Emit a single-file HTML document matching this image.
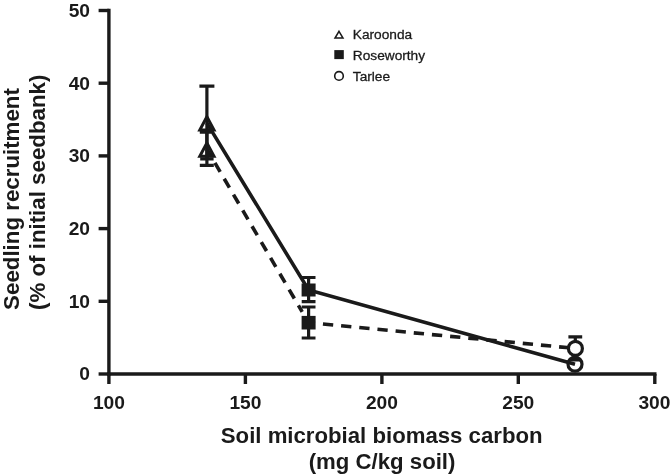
<!DOCTYPE html>
<html>
<head>
<meta charset="utf-8">
<title>Seedling recruitment vs soil microbial biomass carbon</title>
<style>
  html, body { margin: 0; padding: 0; background: #ffffff; }
  body { width: 671px; height: 475px; overflow: hidden; }
  svg { display: block; will-change: transform; }
  text { font-family: "Liberation Sans", sans-serif; fill: #1a1a1a; }
  .b { font-weight: bold; }
  .lg text { stroke: #1a1a1a; stroke-width: 0.3px; }
  .tick { font-size: 19.2px; font-weight: bold; }
  .ax { stroke: #1a1a1a; stroke-width: 3.4; fill: none; stroke-linecap: butt; }
  .eb { stroke: #1a1a1a; stroke-width: 3.2; fill: none; }
  .ln { stroke: #1a1a1a; stroke-width: 3.6; fill: none; }
</style>
</head>
<body>
<svg width="671" height="475" viewBox="0 0 671 475">
  <rect x="0" y="0" width="671" height="475" fill="#ffffff"/>

  <!-- axes -->
  <g class="ax">
    <path d="M108.9 8.8 V375.7"/>
    <path d="M107.2 374 H656.5"/>
    <!-- y ticks -->
    <path d="M98.6 10.5 H108.9"/>
    <path d="M98.6 83.2 H108.9"/>
    <path d="M98.6 155.9 H108.9"/>
    <path d="M98.6 228.6 H108.9"/>
    <path d="M98.6 301.3 H108.9"/>
    <path d="M98.6 374 H108.9"/>
    <!-- x ticks -->
    <path d="M108.9 374 V384"/>
    <path d="M245.4 374 V384"/>
    <path d="M381.9 374 V384"/>
    <path d="M518.3 374 V384"/>
    <path d="M654.8 374 V384"/>
  </g>

  <!-- y tick labels -->
  <g class="tick" text-anchor="end">
    <text x="90" y="16.9">50</text>
    <text x="90" y="89.6">40</text>
    <text x="90" y="162.3">30</text>
    <text x="90" y="235.0">20</text>
    <text x="90" y="307.7">10</text>
    <text x="90" y="380.4">0</text>
  </g>
  <!-- x tick labels -->
  <g class="tick" text-anchor="middle">
    <text x="108.9" y="409.2">100</text>
    <text x="245.4" y="409.2">150</text>
    <text x="381.9" y="409.2">200</text>
    <text x="518.3" y="409.2">250</text>
    <text x="654.4" y="409.2">300</text>
  </g>

  <!-- axis titles -->
  <text class="b" font-size="22.2" text-anchor="middle" x="381.7" y="442.8">Soil microbial biomass carbon</text>
  <text class="b" font-size="22.2" text-anchor="middle" x="382.1" y="469.3">(mg C/kg soil)</text>
  <text class="b" font-size="22.3" text-anchor="middle" transform="translate(18.8 199) rotate(-90)">Seedling recruitment</text>
  <text class="b" font-size="22.3" text-anchor="middle" transform="translate(45.2 192.3) rotate(-90)">(% of initial seedbank)</text>

  <!-- legend -->
  <g font-size="13.7" class="lg">
    <path d="M339 31.28 L343 38.05 H335 Z" fill="#fff" stroke="#1a1a1a" stroke-width="1.5"/>
    <rect x="334.3" y="50.1" width="9.5" height="9" fill="#1a1a1a"/>
    <circle cx="339" cy="75.9" r="4.3" fill="#fff" stroke="#1a1a1a" stroke-width="1.6"/>
    <text x="352.8" y="38.8">Karoonda</text>
    <text x="352.8" y="59.5">Roseworthy</text>
    <text x="352.8" y="80.8">Tarlee</text>
  </g>

  <!-- dashed series -->
  <g class="eb">
    <!-- triangle 30.9 +- 2.2 -->
    <path d="M206.9 132.2 V165.3 M199.8 165.3 H213.8 M199.8 132.2 H211.2"/>
    <!-- square 7.05 +- 2.1 -->
    <path d="M308.6 307 V338 M301.7 307 H315.5 M301.7 338 H315.5"/>
    <!-- circle 3.5 +- 1.6 -->
    <path d="M575.3 336.8 V360 M568.4 336.8 H582.2 M570.5 360 H580"/>
  </g>
  <path class="ln" stroke-dasharray="10.35 8" stroke-dashoffset="2.45" d="M206.9 149.2 L302.2 311.9"/>
  <path class="ln" stroke-dasharray="10.3 7.95" stroke-dashoffset="3.85" d="M308.6 322.7 L575.3 348.4"/>
  <path d="M206.9 142.99 L214 156.3 H199.8 Z" fill="none" stroke="#1a1a1a" stroke-width="3" stroke-linejoin="miter"/>
  <rect x="301.6" y="315.9" width="14" height="13.6" fill="#1a1a1a"/>
  <circle cx="575.4" cy="348.4" r="7" fill="#fff" stroke="#1a1a1a" stroke-width="3.2"/>

  <!-- solid series -->
  <g class="eb">
    <!-- triangle 34.5 +- 5 -->
    <path d="M206.9 86.2 V158.9 M199.4 86.2 H214.4 M200.2 158.9 H213.6"/>
    <!-- square 11.55 +- 1.67 -->
    <path d="M308.6 277.5 V301.7 M301.7 277.5 H315.5 M301.7 301.7 H315.5"/>
  </g>
  <path class="ln" d="M206.9 123.1 L308.6 290 L575 364.2"/>
  <path d="M206.9 116.79 L214 130.1 H199.8 Z" fill="none" stroke="#1a1a1a" stroke-width="3" stroke-linejoin="miter"/>
  <rect x="301.6" y="283.5" width="14" height="13" fill="#1a1a1a"/>
  <circle cx="575" cy="364.2" r="7" fill="none" stroke="#1a1a1a" stroke-width="3.2"/>
</svg>
</body>
</html>
